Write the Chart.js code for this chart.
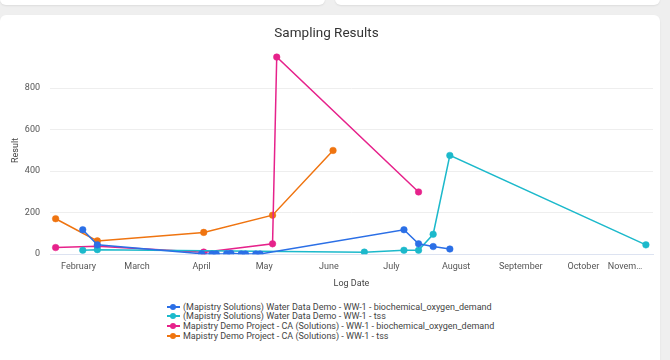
<!DOCTYPE html>
<html>
<head>
<meta charset="utf-8">
<script src="https://cdn.jsdelivr.net/npm/chart.js@4.4.0/dist/chart.umd.min.js"></script>
<style>
  html, body { margin: 0; padding: 0; background: #efefef; width: 670px; height: 360px; overflow: hidden; font-family: Roboto, "Noto Sans", sans-serif; }
  .topcard { position: absolute; top: -10px; height: 15px; background: #fff; border-radius: 6px; box-shadow: 0 1px 2px rgba(0,0,0,0.08); }
  #card { position: absolute; left: 0; top: 15px; width: 660px; height: 360px; background: #fff; border-radius: 6px; box-shadow: 0 1px 2px rgba(0,0,0,0.08); }
  #wrap { position: absolute; left: 0; top: 15px; width: 660px; height: 275px; }
  #legend { position: absolute; left: 167px; top: 301.5px; font-size: 9px; color: #444; }
  .li { position: absolute; left: 0; display: flex; align-items: center; white-space: nowrap; height: 10px; line-height: 10px; }
  .mk { position: relative; width: 13px; height: 8px; margin-right: 3px; }
  .mk .ln { position: absolute; left: 0; right: 0; top: 3px; height: 2px; }
  .mk .dt { position: absolute; left: 3px; top: 1px; width: 6px; height: 6px; border-radius: 50%; }
</style>
</head>
<body>
<div class="topcard" style="left:0;width:325px;"></div>
<div class="topcard" style="left:335px;width:325px;"></div>
<div id="card"></div>
<div id="wrap"><canvas id="c" width="660" height="275"></canvas></div>
<div id="legend"></div>
<script>
// ---- data ----
const seriesNames = [
  "(Mapistry Solutions) Water Data Demo - WW-1 - biochemical_oxygen_demand",
  "(Mapistry Solutions) Water Data Demo - WW-1 - tss",
  "Mapistry Demo Project - CA (Solutions) - WW-1 - biochemical_oxygen_demand",
  "Mapistry Demo Project - CA (Solutions) - WW-1 - tss"
];
const seriesColors = ["#2b6fe6", "#1cb9cb", "#e6228b", "#ef7410"];

const wwBodDates = ["2023-02-03","2023-02-10","2023-04-01","2023-04-06","2023-04-08","2023-04-13","2023-04-15","2023-04-20","2023-04-22","2023-04-27","2023-04-29","2023-07-07","2023-07-14","2023-07-21","2023-07-29"];
const wwBodValues = [118, 45, 2, 1, 1, 2, 4, 1, 1, 1, 1, 118, 50, 37, 25];

const wwTssDates = ["2023-02-03","2023-02-10","2023-06-18","2023-07-07","2023-07-14","2023-07-21","2023-07-29","2023-10-31"];
const wwTssValues = [19, 22, 10, 19, 19, 96, 476, 45];

const caBodDates = ["2023-01-21","2023-02-10","2023-04-02","2023-05-05","2023-05-07","2023-07-14"];
const caBodValues = [32, 38, 10, 50, 950, 300];

const caTssDates = ["2023-01-21","2023-02-10","2023-04-02","2023-05-05","2023-06-03"];
const caTssValues = [171, 64, 105, 188, 500];

const monthTickDates = ["2023-02-01","2023-03-01","2023-04-01","2023-05-01","2023-06-01","2023-07-01","2023-08-01","2023-09-01","2023-10-01","2023-11-01"];
const monthTickLabels = ["February","March","April","May","June","July","August","September","October","Novem…"];
const yTickValues = [0, 200, 400, 600, 800];

// ---- helpers ----
const dayOf = s => (Date.parse(s + "T00:00:00Z") - Date.UTC(2023, 0, 1)) / 86400000;
const pts = (ds, vs) => ds.map((d, i) => ({ x: dayOf(d), y: vs[i] }));
const allDates = [wwBodDates, wwTssDates, caBodDates, caTssDates];
const allValues = [wwBodValues, wwTssValues, caBodValues, caTssValues];
const monthTicks = monthTickDates.map(dayOf);

const datasets = seriesNames.map((n, i) => ({
  label: n,
  data: pts(allDates[i], allValues[i]),
  borderColor: seriesColors[i],
  backgroundColor: seriesColors[i],
  pointBackgroundColor: seriesColors[i],
  pointBorderColor: seriesColors[i],
  borderWidth: 1.5,
  pointRadius: 3.3,
  pointBorderWidth: 0.5,
  tension: 0
}));

const FONT = "Roboto";
new Chart(document.getElementById("c"), {
  type: "line",
  data: { datasets },
  options: {
    responsive: false,
    animation: false,
    layout: { padding: { left: 0, right: 7, top: 0, bottom: 0 } },
    plugins: {
      legend: { display: false },
      tooltip: { enabled: false },
      title: {
        display: true, text: "Sampling Results", color: "#333",
        font: { family: FONT, size: 13.5, weight: "normal" },
        padding: { top: 11, bottom: 4.5 }
      }
    },
    scales: {
      x: {
        type: "linear", min: 17.3, max: 306.4,
        grid: { display: false, drawTicks: false },
        border: { display: true, color: "#dde3f1", width: 1 },
        afterBuildTicks: s => { s.ticks = monthTicks.map(v => ({ value: v })); },
        afterFit: s => { s.paddingLeft = 0; s.paddingRight = 0; },
        ticks: {
          autoSkip: false, maxRotation: 0, padding: 7, color: "#555",
          font: { family: FONT, size: 9 },
          callback: (v, i) => (i === monthTickLabels.length - 1 ? monthTickLabels[i] + "\u2003\u2003\u2003\u2003\u2003" : monthTickLabels[i])
        },
        title: { display: true, text: "Log Date", color: "#444", font: { family: FONT, size: 9, lineHeight: 1 }, padding: { top: 0, bottom: 2 } }
      },
      y: {
        min: 0, max: 1000,
        afterBuildTicks: s => { s.ticks = yTickValues.map(v => ({ value: v })); },
        afterFit: s => { s.width = 50; },
        grid: { color: "#eeeeee", drawTicks: false },
        border: { display: false },
        ticks: { padding: 10, color: "#555", font: { family: FONT, size: 9 } },
        title: { display: true, text: "Result", color: "#444", font: { family: FONT, size: 9 }, padding: { top: 10, bottom: 0 } }
      }
    }
  }
});

// legend (HTML, built from the series arrays)
const lg = document.getElementById("legend");
seriesNames.forEach((n, i) => {
  const row = document.createElement("div");
  row.className = "li";
  row.style.top = (i * 9.8) + "px";
  row.innerHTML = '<span class="mk"><span class="ln" style="background:' + seriesColors[i] + '"></span><span class="dt" style="background:' + seriesColors[i] + '"></span></span><span></span>';
  row.lastChild.textContent = n;
  lg.appendChild(row);
});
</script>
</body>
</html>
